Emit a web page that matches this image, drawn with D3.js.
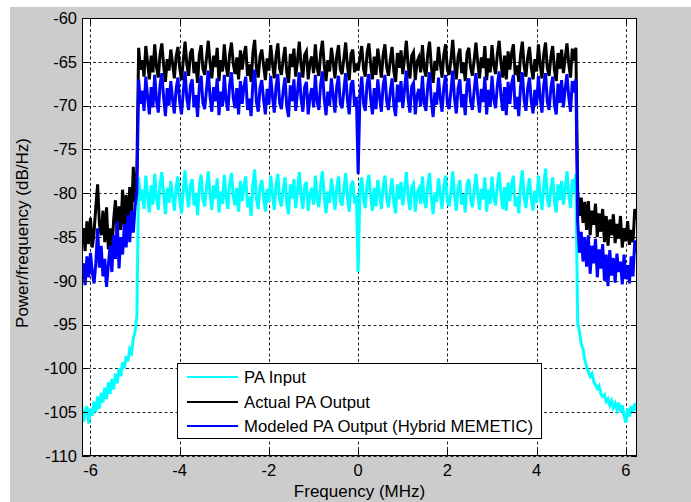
<!DOCTYPE html>
<html>
<head>
<meta charset="utf-8">
<script src="https://cdn.jsdelivr.net/npm/d3@7"></script>
<style>
  body { margin: 0; background: #fff; }
  text { font-family: "Liberation Sans", Arial, sans-serif; fill: #000; }
</style>
</head>
<body>
<script>
// frequency grid of the PSD, MHz
const freqStart = -6.24;
const freqStep = 0.04;

// PA input (cyan), dB/Hz
const paInput = [
  // lower skirt
  -105.2, -104.0, -106.1, -105.0, -104.3, -106.3, -104.6, -105.4, -103.8, -105.0,
  -103.2, -104.6, -102.8, -103.9, -102.2, -103.5, -101.6, -102.9, -101.2, -102.4,
  -100.6, -101.7, -100.0, -100.9, -99.3, -100.0, -98.6, -99.2, -97.8, -98.2,
  -96.6, -95.8, -94.0,
  // in band
  -78.2, -80.9, -79.6, -81.8, -78.0, -80.3, -82.2, -79.1, -81.3, -77.8,
  -80.5, -81.9, -79.0, -77.6, -80.2, -82.4, -79.4, -81.1, -78.6, -80.4,
  -82.0, -79.3, -78.1, -80.8, -82.3, -79.7, -77.4, -80.1, -81.6, -79.0,
  -78.4, -81.4, -80.0, -82.5, -79.2, -77.9, -80.7, -81.5, -79.5, -77.5,
  -80.2, -81.9, -79.1, -80.6, -78.3, -82.2, -79.8, -81.2, -77.9, -80.5,
  -81.8, -79.0, -77.7, -80.3, -81.4, -79.4, -82.1, -78.6, -80.9, -79.2,
  -78.1, -81.6, -80.4, -82.6, -79.0, -77.3, -80.6, -81.8, -79.3, -78.5,
  -80.4, -82.1, -79.5, -81.0, -78.0, -80.2, -81.9, -79.1, -77.8, -80.8,
  -81.5, -79.6, -78.2, -81.2, -82.4, -79.0, -80.6, -78.4, -81.7, -79.8,
  -77.6, -80.3, -81.8, -79.2, -78.7, -82.0, -80.1, -79.4, -81.3, -78.0,
  -80.7, -81.6, -79.0, -77.5, -80.4, -82.3, -79.8, -81.1, -78.3, -80.0,
  -81.9, -79.3, -78.1, -80.9, -81.4, -79.6, -77.7, -80.5, -82.1, -79.1,
  -78.6, -81.2, -80.2, -89.0, -79.4, -78.2, -80.8, -81.7, -79.0, -77.9,
  -80.3, -82.0, -79.4, -81.5, -78.5, -80.1, -81.8, -79.2, -78.0, -80.6,
  -81.6, -79.8, -78.3, -81.1, -82.3, -79.0, -80.7, -78.7, -81.4, -79.6,
  -77.6, -80.4, -81.9, -79.3, -78.9, -82.1, -80.0, -79.5, -81.2, -78.1,
  -80.8, -81.7, -79.1, -77.7, -80.5, -82.4, -79.9, -81.0, -78.3, -80.2,
  -81.8, -79.2, -78.0, -80.9, -81.5, -79.7, -77.5, -80.3, -82.0, -79.4,
  -78.5, -81.3, -80.1, -82.2, -79.0, -78.4, -80.6, -81.6, -79.8, -77.8,
  -80.0, -81.9, -79.5, -80.7, -78.2, -82.1, -79.6, -81.2, -78.1, -80.4,
  -81.4, -79.1, -77.6, -80.1, -81.8, -79.3, -82.0, -78.8, -80.9, -79.0,
  -78.0, -81.5, -80.4, -82.3, -79.2, -77.4, -80.5, -81.7, -79.5, -78.3,
  -80.6, -82.0, -79.7, -81.1, -78.0, -80.3, -81.9, -79.1, -77.2, -80.7,
  -81.6, -79.4, -78.2, -81.0, -82.2, -79.0, -80.8, -78.6, -81.3, -79.6,
  -77.5, -80.2, -81.7, -78.4, -79.9, -77.8,
  // upper skirt
  -94.8, -95.8, -97.2, -97.8, -99.0, -99.8, -100.4, -100.9, -100.6, -101.5,
  -101.9, -102.3, -102.0, -102.9, -103.2, -103.0, -103.8, -103.5, -104.2, -103.7,
  -104.5, -104.0, -104.7, -103.9, -105.0, -104.2, -105.4, -106.2, -104.6, -105.5,
  -104.3, -105.0, -104.0, -104.8
];

// actual PA output (black), dB/Hz
const paActual = [
  -83.0, -85.5, -84.0, -86.6, -83.2, -85.8, -82.8, -86.2, -84.5, -81.5,
  -79.0, -83.5, -84.8, -82.0, -85.6, -81.6, -86.4, -84.0, -86.7, -83.0,
  -80.8, -85.0, -81.5, -84.2, -79.6, -83.8, -80.2, -84.5, -79.3, -82.8,
  -77.0, -81.0, -77.5,
  -63.4, -65.9, -64.8, -66.7, -63.2, -65.1, -67.0, -64.3, -66.2, -63.0,
  -65.6, -66.8, -64.1, -62.9, -65.4, -67.3, -64.7, -66.0, -63.6, -65.2,
  -66.9, -64.4, -63.3, -65.7, -67.1, -64.9, -62.7, -65.3, -66.6, -64.0,
  -63.5, -66.3, -65.0, -67.4, -64.2, -63.1, -65.8, -66.5, -64.6, -62.6,
  -65.1, -66.9, -64.3, -65.6, -63.4, -67.2, -64.8, -66.1, -63.0, -65.5,
  -66.7, -64.1, -62.8, -65.2, -66.4, -64.5, -67.0, -63.7, -65.9, -64.2,
  -63.2, -66.6, -65.3, -67.3, -64.0, -62.5, -65.7, -66.8, -64.4, -63.6,
  -65.4, -67.1, -64.6, -66.0, -63.1, -65.2, -66.9, -64.3, -62.9, -65.8,
  -66.5, -64.7, -63.3, -66.2, -67.4, -64.1, -65.6, -63.5, -66.7, -64.9,
  -62.7, -65.3, -66.8, -64.2, -63.8, -67.0, -65.1, -64.4, -66.3, -63.0,
  -65.7, -66.6, -64.0, -62.6, -65.4, -67.2, -64.8, -66.1, -63.4, -65.0,
  -66.9, -64.3, -63.1, -65.9, -66.4, -64.6, -62.8, -65.5, -67.1, -64.1,
  -63.6, -66.2, -65.2, -66.0, -64.5, -63.2, -65.8, -66.7, -64.0, -62.9,
  -65.3, -67.0, -64.4, -66.5, -63.5, -65.1, -66.8, -64.2, -63.0, -65.6,
  -66.6, -64.8, -63.3, -66.1, -67.3, -64.0, -65.7, -63.7, -66.4, -64.6,
  -62.6, -65.4, -66.9, -64.3, -63.9, -67.1, -65.0, -64.5, -66.2, -63.1,
  -65.8, -66.7, -64.1, -62.7, -65.5, -67.4, -64.9, -66.0, -63.3, -65.2,
  -66.8, -64.2, -63.0, -65.9, -66.5, -64.7, -62.5, -65.3, -67.0, -64.4,
  -63.5, -66.3, -65.1, -67.2, -64.0, -63.4, -65.6, -66.6, -64.8, -62.8,
  -65.0, -66.9, -64.5, -65.7, -63.2, -67.1, -64.6, -66.2, -63.1, -65.4,
  -66.4, -64.1, -62.6, -65.1, -66.8, -64.3, -67.0, -63.8, -65.9, -64.0,
  -63.0, -66.5, -65.4, -67.3, -64.2, -62.7, -65.5, -66.7, -64.5, -63.3,
  -65.6, -67.0, -64.7, -66.1, -63.0, -65.3, -66.9, -64.1, -62.8, -65.7,
  -66.6, -64.4, -63.2, -66.0, -67.2, -64.0, -65.8, -63.6, -66.3, -64.6,
  -62.9, -65.2, -66.8, -63.5, -64.9, -63.4,
  -79.8, -82.6, -80.5, -83.4, -81.0, -84.2, -80.9, -84.8, -82.0, -83.6,
  -81.2, -85.0, -82.3, -84.4, -81.8, -85.6, -82.6, -86.0, -83.0, -84.8,
  -82.4, -85.7, -83.5, -85.2, -82.6, -86.2, -84.0, -85.5, -83.2, -85.9,
  -84.2, -85.6, -81.8, -83.0
];

// modeled PA output, hybrid MEMETIC (blue), dB/Hz
const paModeled = [
  -87.5, -89.8, -88.0, -90.5, -87.2, -89.6, -86.8, -89.0, -90.3, -88.0,
  -84.0, -88.5, -86.0, -89.5, -87.5, -90.7, -88.2, -86.0, -89.0, -84.8,
  -87.5, -83.2, -88.6, -85.0, -87.0, -83.5, -86.2, -82.5, -85.6, -82.0,
  -84.5, -81.5, -80.0,
  -67.0, -69.8, -68.3, -70.6, -66.7, -69.0, -71.0, -67.9, -70.2, -66.5,
  -69.4, -70.8, -67.6, -66.3, -69.1, -71.2, -68.0, -70.0, -67.2, -69.3,
  -70.9, -68.1, -66.8, -69.6, -71.0, -68.5, -66.1, -69.2, -70.5, -67.7,
  -67.0, -70.2, -68.8, -71.3, -67.8, -66.6, -69.7, -70.4, -68.2, -66.0,
  -69.0, -70.7, -67.9, -69.5, -66.9, -71.1, -68.4, -70.1, -66.5, -69.4,
  -70.6, -67.6, -66.2, -69.1, -70.3, -68.0, -71.0, -67.2, -69.8, -67.8,
  -66.7, -70.5, -69.2, -71.2, -67.5, -65.9, -69.6, -70.7, -68.0, -67.1,
  -69.3, -71.0, -68.1, -69.9, -66.6, -69.0, -70.8, -67.8, -66.4, -69.7,
  -70.4, -68.3, -66.8, -70.1, -71.3, -67.7, -69.5, -67.0, -70.6, -68.5,
  -66.2, -69.2, -70.7, -67.9, -67.3, -71.0, -69.0, -68.0, -70.2, -66.5,
  -69.6, -70.5, -67.5, -66.1, -69.3, -71.1, -68.4, -70.0, -66.9, -68.9,
  -70.8, -67.8, -66.6, -69.8, -70.3, -68.2, -66.3, -69.4, -71.0, -67.6,
  -67.1, -70.1, -69.0, -77.8, -68.8, -66.7, -69.7, -70.6, -67.5, -66.4,
  -69.2, -71.0, -68.0, -70.4, -67.0, -69.0, -70.7, -67.7, -66.5, -69.5,
  -70.5, -68.4, -66.9, -70.0, -71.2, -67.6, -69.6, -67.2, -70.3, -68.1,
  -66.0, -69.3, -70.8, -67.8, -67.4, -71.0, -68.9, -68.1, -70.1, -66.6,
  -69.7, -70.6, -67.7, -66.2, -69.4, -71.3, -68.5, -69.9, -66.8, -69.1,
  -70.7, -67.9, -66.5, -69.8, -70.4, -68.3, -66.0, -69.2, -70.9, -68.0,
  -67.0, -70.2, -68.7, -71.1, -67.6, -66.9, -69.5, -70.5, -68.3, -66.3,
  -68.9, -70.8, -68.1, -69.6, -66.7, -71.0, -68.2, -70.1, -66.6, -69.3,
  -70.3, -67.7, -66.1, -68.8, -70.6, -67.9, -71.1, -67.3, -69.8, -67.5,
  -66.5, -70.4, -69.0, -71.2, -67.8, -66.2, -69.4, -70.6, -68.0, -66.8,
  -69.5, -70.9, -68.2, -70.0, -66.6, -69.1, -70.8, -67.6, -66.3, -69.6,
  -70.5, -68.0, -66.7, -69.9, -71.0, -67.5, -69.7, -67.1, -70.2, -68.1,
  -66.4, -69.0, -70.7, -67.2, -68.5, -67.0,
  -83.2, -86.8, -84.4, -87.8, -85.0, -88.4, -84.8, -89.2, -86.0, -88.0,
  -85.2, -89.6, -86.4, -88.6, -85.8, -90.0, -87.0, -90.6, -86.5, -89.4,
  -87.4, -90.2, -86.9, -89.0, -87.8, -90.4, -87.0, -89.8, -88.2, -90.3,
  -87.2, -89.5, -85.4, -86.8
];

const seriesNames = ["PA Input", "Actual PA Output", "Modeled PA Output (Hybrid MEMETIC)"];
const seriesColors = ["#00ffff", "#000000", "#0000ff"];
const xTicks = [-6, -4, -2, 0, 2, 4, 6];
const yTicks = [-110, -105, -100, -95, -90, -85, -80, -75, -70, -65, -60];

const W = 691, H = 502;
const plot = { left: 82, right: 637, top: 18, bottom: 456 };

const svg = d3.select("body").append("svg")
  .attr("width", W)
  .attr("height", H);

// figure background (matlab grey)
svg.append("rect")
  .attr("x", 10).attr("y", 7)
  .attr("width", W - 10).attr("height", H - 7)
  .attr("fill", "#cccccc");

const x = d3.scaleLinear().domain([-6.19, 6.25]).range([plot.left, plot.right]);
const y = d3.scaleLinear().domain([-110, -60]).range([plot.bottom, plot.top]);

svg.append("rect")
  .attr("x", plot.left).attr("y", plot.top)
  .attr("width", plot.right - plot.left).attr("height", plot.bottom - plot.top)
  .attr("fill", "#fff");

// grid
const grid = svg.append("g")
  .attr("stroke", "#222")
  .attr("stroke-width", 1)
  .attr("stroke-dasharray", "3,2.5");

grid.selectAll(".gx").data(xTicks).enter().append("line")
  .attr("x1", d => Math.round(x(d)) + 0.5).attr("x2", d => Math.round(x(d)) + 0.5)
  .attr("y1", plot.top).attr("y2", plot.bottom);

grid.selectAll(".gy").data(yTicks).enter().append("line")
  .attr("y1", d => Math.round(y(d)) + 0.5).attr("y2", d => Math.round(y(d)) + 0.5)
  .attr("x1", plot.left).attr("x2", plot.right);

// data
svg.append("clipPath").attr("id", "clip")
  .append("rect")
  .attr("x", plot.left).attr("y", plot.top)
  .attr("width", plot.right - plot.left).attr("height", plot.bottom - plot.top);

const series = [paInput, paActual, paModeled];
const line = d3.line()
  .x((d, i) => x(freqStart + i * freqStep))
  .y(d => y(d));

svg.append("g")
  .attr("clip-path", "url(#clip)")
  .selectAll("path")
  .data(series)
  .enter()
  .append("path")
  .attr("d", line)
  .attr("fill", "none")
  .attr("stroke", (d, i) => seriesColors[i])
  .attr("stroke-width", 3)
  .attr("stroke-linejoin", "miter");

// axes box and ticks
svg.append("rect")
  .attr("x", plot.left + 0.5).attr("y", plot.top + 0.5)
  .attr("width", plot.right - plot.left - 1).attr("height", plot.bottom - plot.top - 1)
  .attr("fill", "none")
  .attr("stroke", "#000");

const tickLen = 6;
const ticks = svg.append("g").attr("stroke", "#000");
xTicks.forEach(t => {
  const px = Math.round(x(t)) + 0.5;
  ticks.append("line").attr("x1", px).attr("x2", px).attr("y1", plot.bottom).attr("y2", plot.bottom - tickLen);
  ticks.append("line").attr("x1", px).attr("x2", px).attr("y1", plot.top).attr("y2", plot.top + tickLen);
});
yTicks.forEach(t => {
  const py = Math.round(y(t)) + 0.5;
  ticks.append("line").attr("y1", py).attr("y2", py).attr("x1", plot.left).attr("x2", plot.left + tickLen);
  ticks.append("line").attr("y1", py).attr("y2", py).attr("x1", plot.right).attr("x2", plot.right - tickLen);
});

svg.append("g").selectAll("text").data(xTicks).enter().append("text")
  .attr("x", d => x(d))
  .attr("y", 476)
  .attr("text-anchor", "middle")
  .attr("font-size", 16.5)
  .text(d => d);

svg.append("g").selectAll("text").data(yTicks).enter().append("text")
  .attr("x", 77)
  .attr("y", d => y(d))
  .attr("dy", "0.35em")
  .attr("text-anchor", "end")
  .attr("font-size", 16.5)
  .text(d => d);

svg.append("text")
  .attr("x", (plot.left + plot.right) / 2)
  .attr("y", 497)
  .attr("text-anchor", "middle")
  .attr("font-size", 17)
  .text("Frequency (MHz)");

svg.append("text")
  .attr("transform", `translate(28,${233}) rotate(-90)`)
  .attr("text-anchor", "middle")
  .attr("font-size", 17)
  .text("Power/frequency (dB/Hz)");

// legend
const legend = svg.append("g");
legend.append("rect")
  .attr("x", 177.5).attr("y", 363.5)
  .attr("width", 364).attr("height", 75)
  .attr("fill", "#fff")
  .attr("stroke", "#000");

const rowY = [377, 402, 426];
seriesNames.forEach((name, i) => {
  legend.append("line")
    .attr("x1", 187).attr("x2", 238)
    .attr("y1", rowY[i]).attr("y2", rowY[i])
    .attr("stroke", seriesColors[i])
    .attr("stroke-width", 2);
  legend.append("text")
    .attr("x", 244)
    .attr("y", rowY[i])
    .attr("dy", "0.35em")
    .attr("font-size", 16.7)
    .text(name);
});
</script>
</body>
</html>
